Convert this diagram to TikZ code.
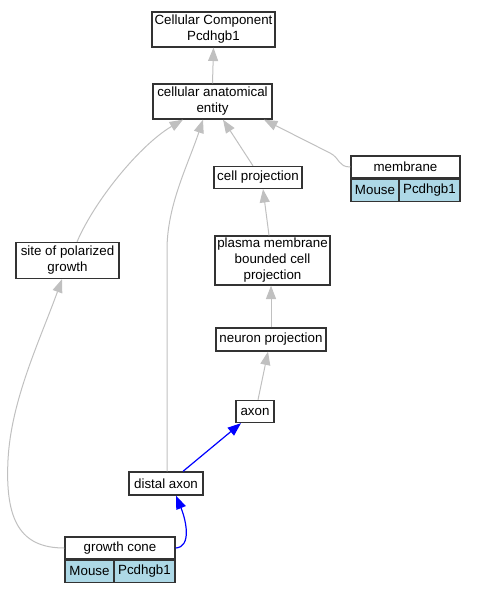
\documentclass[tikz,border=0pt]{standalone}
\usepackage{fontspec}
\setmainfont{Liberation Sans}
\usetikzlibrary{calc}
\usetikzlibrary{arrows.meta}
\usetikzlibrary{positioning}

\definecolor{speciesblue}{HTML}{ADD8E6}
\definecolor{isagray}{HTML}{C0C0C0}

\begin{document}
\begin{tikzpicture}[x=0.75pt,y=-0.75pt,
    term/.style={draw=black!80, fill=white, line width=1pt, inner sep=0pt, align=center, font=\fontsize{10}{12}\selectfont},
    species/.style={term, fill=speciesblue, minimum height=16.5pt},
    isa/.style={draw=isagray, line width=0.75pt, -{Triangle[length=10pt,width=7.5pt]}},
    partof/.style={draw=blue, line width=0.9pt, -{Triangle[length=10pt,width=7.5pt]}}]
  \useasboundingbox (0,0) rectangle (476,592);

  % terms
  \node[term, minimum width=92.25pt, minimum height=26.25pt] (cc) at (213.5,29.5) {Cellular Component\\Pcdhgb1};
  \node[term, minimum width=89.25pt, minimum height=26.25pt] (cae) at (212.5,101.5) {cellular anatomical\\entity};
  \node[term, minimum width=66pt, minimum height=16.5pt] (cellproj) at (258,177.5) {cell projection};
  \node[term, minimum width=81.75pt, minimum height=16.5pt] (memb) at (405.5,167) {membrane};
  \node[species, anchor=north west, minimum width=36pt] (membM) at (memb.south west) {Mouse};
  \node[species, anchor=north east, minimum width=45.75pt] (membP) at (memb.south east) {Pcdhgb1};
  \node[term, minimum width=86.25pt, minimum height=36.75pt] (plasma) at (272.5,260.5) {plasma membrane\\bounded cell\\projection};
  \node[term, minimum width=82.5pt, minimum height=17.25pt] (neuron) at (271,339.5) {neuron projection};
  \node[term, minimum width=77.25pt, minimum height=27pt] (site) at (67.5,260.5) {site of polarized\\growth};
  \node[term, minimum width=28.5pt, minimum height=16.5pt] (axon) at (255,411.5) {axon};
  \node[term, minimum width=55.5pt, minimum height=17.25pt] (distal) at (166,483.5) {distal axon};
  \node[term, minimum width=82.5pt, minimum height=16.5pt] (gc) at (120,548) {growth cone};
  \node[species, anchor=north west, minimum width=36.75pt] (gcM) at (gc.south west) {Mouse};
  \node[species, anchor=north east, minimum width=45.75pt] (gcP) at (gc.south east) {Pcdhgb1};

  % is_a
  \draw[isa] (cae.north) -- (cc.south);
  \draw[isa] ($(cellproj.north)+(-5,0)$) -- ($(cae.south)+(10.5,0)$);
  \draw[isa] ($(site.north)+(9.5,0)$) .. controls (95,200) and (140,145) .. ($(cae.south)+(-29.5,0)$);
  \draw[isa] ($(distal.north)+(1,0)$) -- (167,250) .. controls (167,205) and (188,165) .. ($(cae.south)+(-9.5,0)$);
  \draw[isa] (memb.west) .. controls (338,167) and (340,158) .. (330,153) -- ($(cae.south)+(51.5,0)$);
  \draw[isa] ($(plasma.north)+(-3.5,0)$) -- ($(cellproj.south)+(5,0)$);
  \draw[isa] (neuron.north) -- (neuron.north |- plasma.south);
  \draw[isa] ($(axon.north)+(3,0)$) -- ($(neuron.south)+(-3,0)$);
  \draw[isa] (gc.west) .. controls (20,548) and (5,520) .. (8,460) .. controls (11,400) and (40,340) .. ($(site.south)+(-5.5,0)$);

  % part_of
  \draw[partof] ($(distal.north)+(17,0)$) -- ($(axon.south)+(-14,0)$);
  \draw[partof] (gc.east) .. controls (192,547) and (186,520) .. ($(distal.south)+(10,0)$);
\end{tikzpicture}
\end{document}
